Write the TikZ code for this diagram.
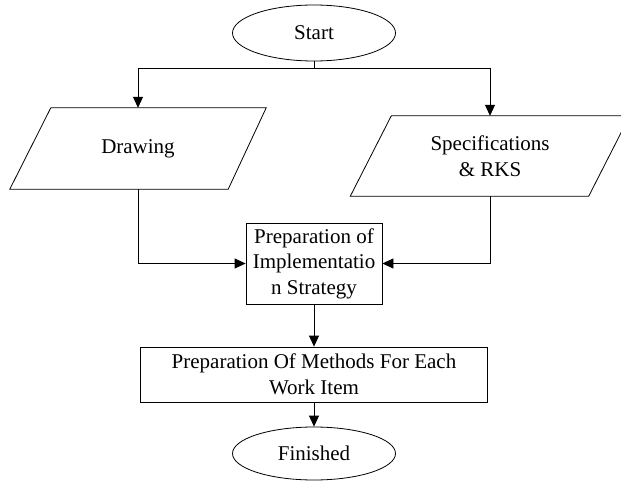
\documentclass[tikz,border=0pt]{standalone}
\usepackage{fontspec}
\setmainfont{Liberation Serif}
\usetikzlibrary{arrows.meta,shapes.geometric}
\begin{document}
\begin{tikzpicture}[x=1pt,y=-1pt,
  every node/.style={font=\fontsize{21}{25.5}\selectfont, align=center, inner sep=0pt},
  term/.style={draw, ellipse, line width=0.8pt, minimum width=163pt},
  box/.style={draw, rectangle, line width=0.8pt},
  parabox/.style={rectangle, minimum height=81pt},
  arr/.style={line width=0.8pt, -{Triangle[length=11pt,width=10pt]}},
  ln/.style={line width=0.8pt}]
\useasboundingbox (0,0) rectangle (621,481);
\clip (0,0) rectangle (621,481);

\node[term, minimum height=56pt] (start) at (314,33) {Start};

\node[parabox, minimum width=256pt] (drawing) at (138,148.5) {\raisebox{-2pt}{Drawing}};
\draw[ln] (drawing.south west) -- ([xshift=-38pt]drawing.south east) -- (drawing.north east) -- ([xshift=41pt]drawing.north west) -- cycle;

\node[parabox, minimum width=279pt, minimum height=80pt] (spec) at (490,156) {Specifications\\ \& RKS};
\draw[ln] (spec.south west) -- ([xshift=-41pt]spec.south east) -- (spec.north east) -- ([xshift=41pt]spec.north west) -- cycle;

\node[box, minimum width=136pt, minimum height=81pt] (prep) at (314,263.5) {Preparation of\\Implementatio\\n Strategy};

\node[box, minimum width=347pt, minimum height=55pt, font=\fontsize{21}{26.5}\selectfont] (methods) at (314,374.5) {Preparation Of Methods For Each\\Work Item};

\node[term, minimum height=53pt] (finished) at (314,453.5) {Finished};

\draw[arr] (start.south) -- ++(0,7) -| (drawing.north);
\draw[arr] (start.south) -- ++(0,7) -| (spec.north);
\draw[arr] (drawing.south) |- (prep.west);
\draw[arr] (spec.south) |- (prep.east);
\draw[arr] (prep.south) -- (methods.north);
\draw[arr] (methods.south) -- (finished.north);
\end{tikzpicture}
\end{document}
